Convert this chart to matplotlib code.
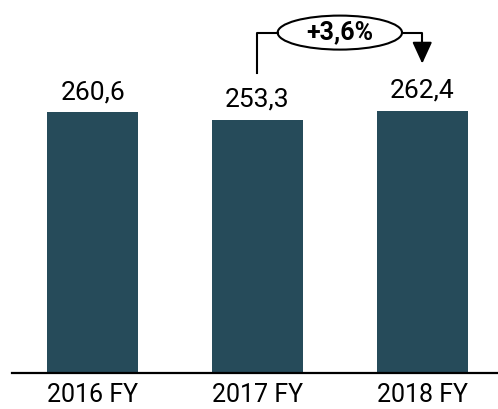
import matplotlib.pyplot as plt
from matplotlib.patches import Ellipse

# data
categories = ["2016 FY", "2017 FY", "2018 FY"]
values = [260.6, 253.3, 262.4]
bar_color = "#264b5a"

plt.rcParams['font.family'] = ['Roboto', 'DejaVu Sans']

fig = plt.figure(figsize=(4.98, 4.09), dpi=100)
ax = fig.add_axes([12 / 498, 36 / 409, 486 / 498, 373 / 409])

x = list(range(len(categories)))
ax.bar(x, values, width=0.55, color=bar_color)

for xi, v in zip(x, values):
    ax.text(xi, v + 8, f"{v:.1f}".replace(".", ","), ha="center", va="bottom",
            fontsize=19)

ax.set_xlim(-0.49, 2.46)
ax.set_ylim(0, 373)
ax.set_xticks(x)
ax.set_xticklabels(categories, fontsize=18)
ax.tick_params(axis="x", length=0, pad=7.5)
ax.set_yticks([])
for s in ["top", "right", "left"]:
    ax.spines[s].set_visible(False)
ax.spines["bottom"].set_linewidth(1.6)

# growth bracket 2017 -> 2018
growth = (values[2] / values[1] - 1) * 100
y_top = max(values) + 78
x0, x1 = x[1], x[2]
xm = (x0 + x1) / 2
ew, eh = 0.755, 34
ax.plot([x0, x0, xm - ew / 2], [values[1] + 47, y_top, y_top], color="black", lw=1.5)
ax.plot([xm + ew / 2, x1, x1], [y_top, y_top, values[2] + 60], color="black", lw=1.5)
ax.annotate("", xy=(x1, values[2] + 47), xytext=(x1, values[2] + 64),
            arrowprops=dict(arrowstyle="-|>,head_width=0.55,head_length=1.2",
                            mutation_scale=11, color="black", lw=1.5,
                            shrinkA=0, shrinkB=0))
ax.add_patch(Ellipse((xm, y_top), ew, eh, facecolor="white", edgecolor="black", lw=1.5))
ax.text(xm, y_top, f"+{growth:.1f}%".replace(".", ","), ha="center", va="center",
        fontsize=18, fontweight="bold")

fig.savefig("out.png", dpi=100)
